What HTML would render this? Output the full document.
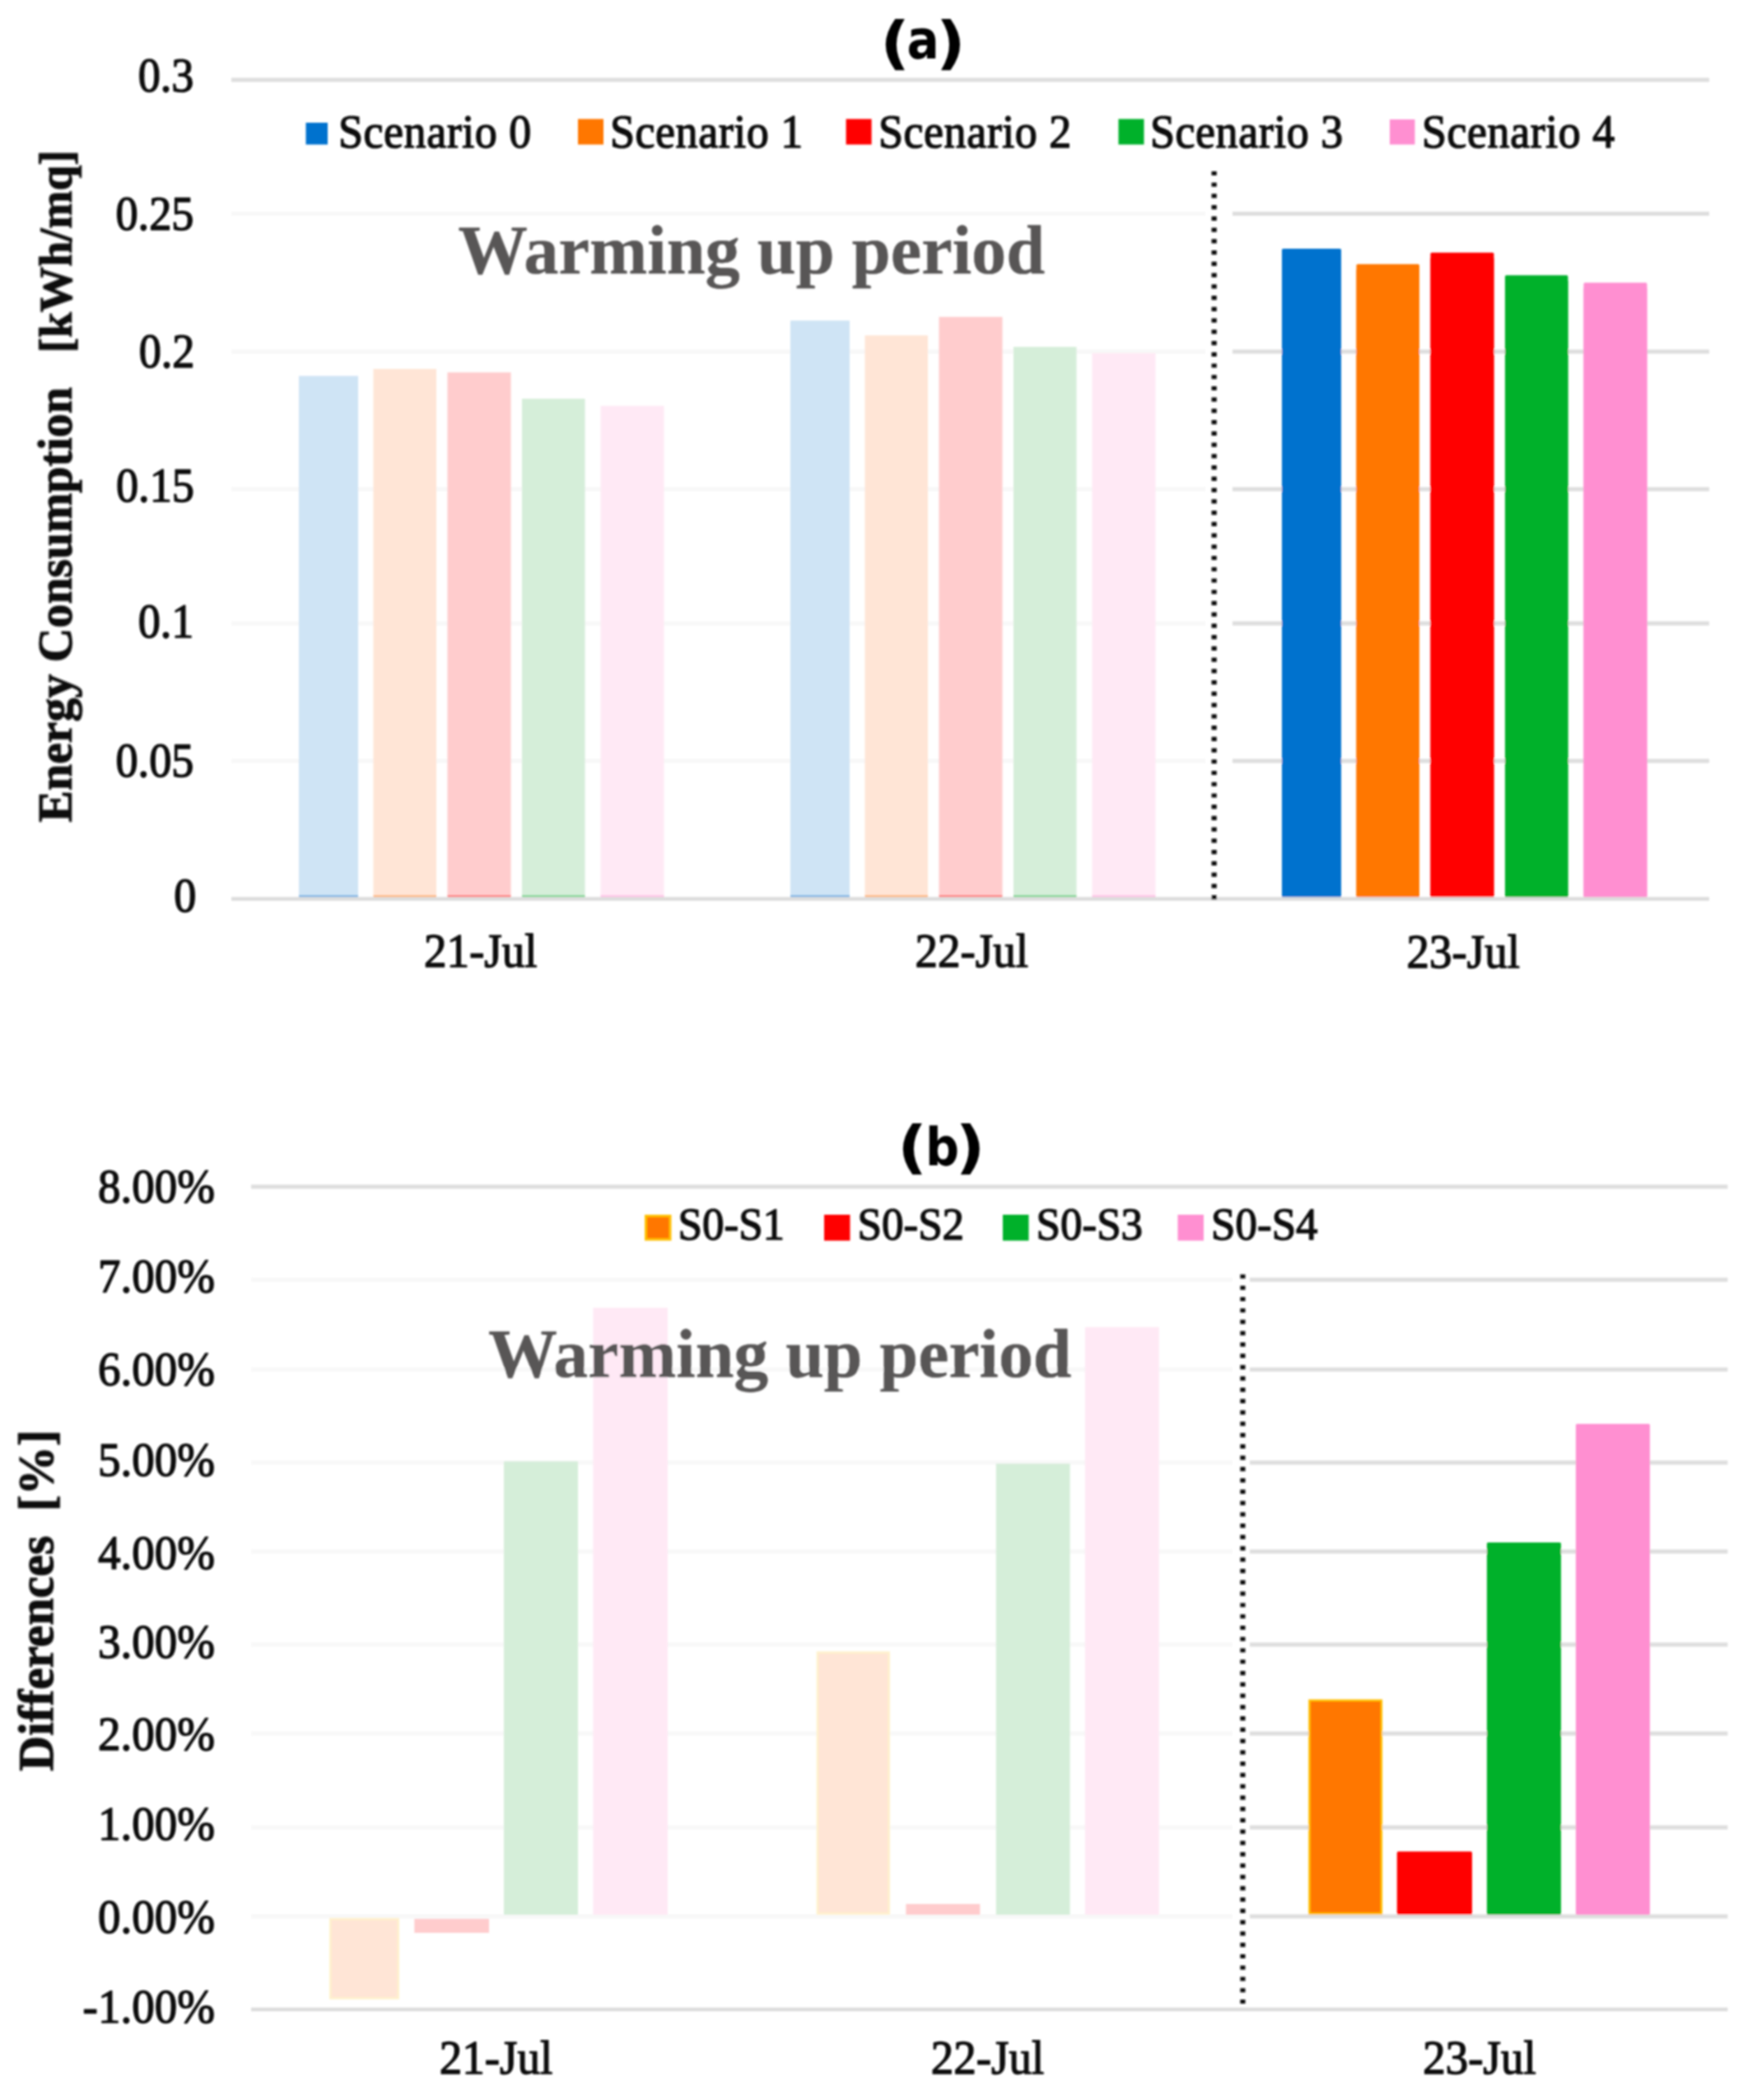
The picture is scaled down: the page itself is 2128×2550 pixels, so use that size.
<!DOCTYPE html>
<html lang="en">
<head>
<meta charset="utf-8">
<title>Energy consumption and differences per scenario</title>
<style>
html,body{margin:0;padding:0;background:#fff;}
body{width:2128px;height:2550px;overflow:hidden;}
svg{display:block;}
text{text-rendering:geometricPrecision;white-space:pre;}
</style>
</head>
<body>
<svg width="2128" height="2550" viewBox="0 0 2128 2550">
<rect x="0" y="0" width="2128" height="2550" fill="#ffffff"/>
<g filter="url(#soft)">
<line x1="281" y1="97" x2="2076" y2="97" stroke="#dedede" stroke-width="5" />
<line x1="281" y1="259.5" x2="1464" y2="259.5" stroke="#f8f8f8" stroke-width="5" />
<line x1="1497" y1="259.5" x2="2076" y2="259.5" stroke="#dedede" stroke-width="5" />
<line x1="281" y1="427" x2="1464" y2="427" stroke="#f8f8f8" stroke-width="5" />
<line x1="1497" y1="427" x2="2076" y2="427" stroke="#dedede" stroke-width="5" />
<line x1="281" y1="594" x2="1464" y2="594" stroke="#f8f8f8" stroke-width="5" />
<line x1="1497" y1="594" x2="2076" y2="594" stroke="#dedede" stroke-width="5" />
<line x1="281" y1="757" x2="1464" y2="757" stroke="#f8f8f8" stroke-width="5" />
<line x1="1497" y1="757" x2="2076" y2="757" stroke="#dedede" stroke-width="5" />
<line x1="281" y1="924" x2="1464" y2="924" stroke="#f8f8f8" stroke-width="5" />
<line x1="1497" y1="924" x2="2076" y2="924" stroke="#dedede" stroke-width="5" />
<rect x="363.0" y="456.5" width="72.0" height="631.0" fill="#cfe4f5" />
<rect x="363.0" y="1087.0" width="72.0" height="2.5" fill="#73b1e4" />
<rect x="453.5" y="448.0" width="76.5" height="639.5" fill="#ffe5d6" />
<rect x="453.5" y="1087.0" width="76.5" height="2.5" fill="#ffb473" />
<rect x="543.5" y="452.2" width="77.0" height="635.3" fill="#ffcccd" />
<rect x="543.5" y="1087.0" width="77.0" height="2.5" fill="#ff7373" />
<rect x="634.0" y="484.2" width="76.5" height="603.3" fill="#d5eed9" />
<rect x="634.0" y="1087.0" width="76.5" height="2.5" fill="#73d48a" />
<rect x="729.5" y="492.8" width="77.0" height="594.7" fill="#ffe9f5" />
<rect x="729.5" y="1087.0" width="77.0" height="2.5" fill="#ffc1e6" />
<rect x="960.0" y="389.3" width="72.0" height="698.2" fill="#cfe4f5" />
<rect x="960.0" y="1087.0" width="72.0" height="2.5" fill="#73b1e4" />
<rect x="1050.5" y="407.3" width="76.5" height="680.2" fill="#ffe5d6" />
<rect x="1050.5" y="1087.0" width="76.5" height="2.5" fill="#ffb473" />
<rect x="1140.5" y="384.8" width="77.0" height="702.7" fill="#ffcccd" />
<rect x="1140.5" y="1087.0" width="77.0" height="2.5" fill="#ff7373" />
<rect x="1231.0" y="421.2" width="76.5" height="666.3" fill="#d5eed9" />
<rect x="1231.0" y="1087.0" width="76.5" height="2.5" fill="#73d48a" />
<rect x="1326.5" y="428.8" width="77.0" height="658.7" fill="#ffe9f5" />
<rect x="1326.5" y="1087.0" width="77.0" height="2.5" fill="#ffc1e6" />
<rect x="1557.0" y="302.0" width="72.0" height="787.5" fill="#0072ce" rx="1.6"/>
<rect x="1557.0" y="308.7" width="72.0" height="780.8" fill="#0072ce" />
<rect x="1647.5" y="320.8" width="76.5" height="768.7" fill="#ff7700" rx="1.6"/>
<rect x="1647.5" y="327.5" width="76.5" height="762.0" fill="#ff7700" />
<rect x="1737.5" y="306.7" width="77.0" height="782.8" fill="#ff0000" rx="1.6"/>
<rect x="1737.5" y="313.4" width="77.0" height="776.1" fill="#ff0000" />
<rect x="1828.0" y="334.3" width="76.5" height="755.2" fill="#00b12b" rx="1.6"/>
<rect x="1828.0" y="341.0" width="76.5" height="748.5" fill="#00b12b" />
<rect x="1923.5" y="343.3" width="77.0" height="746.2" fill="#ff8fd1" rx="1.6"/>
<rect x="1923.5" y="350.0" width="77.0" height="739.5" fill="#ff8fd1" />
<line x1="281" y1="1091.5" x2="2076" y2="1091.5" stroke="#dcdcdc" stroke-width="4.5" />
<line x1="1474.7" y1="207.90" x2="1474.7" y2="1093.00" stroke="#111" stroke-width="6.2" stroke-dasharray="5.2 8.536"/>
<text transform="translate(235.5,111.2) scale(1.0,1.08)" font-family="'Liberation Serif', 'DejaVu Serif', serif" font-size="54.3" font-weight="normal" text-anchor="end" fill="#111" stroke="#111" stroke-width="1.4" stroke-linejoin="round" xml:space="preserve">0.3</text>
<text transform="translate(235.5,278.7) scale(1.0,1.08)" font-family="'Liberation Serif', 'DejaVu Serif', serif" font-size="54.3" font-weight="normal" text-anchor="end" fill="#111" stroke="#111" stroke-width="1.4" stroke-linejoin="round" xml:space="preserve">0.25</text>
<text transform="translate(236.5,446.2) scale(1.0,1.08)" font-family="'Liberation Serif', 'DejaVu Serif', serif" font-size="54.3" font-weight="normal" text-anchor="end" fill="#111" stroke="#111" stroke-width="1.4" stroke-linejoin="round" xml:space="preserve">0.2</text>
<text transform="translate(236.0,609.2) scale(1.0,1.08)" font-family="'Liberation Serif', 'DejaVu Serif', serif" font-size="54.3" font-weight="normal" text-anchor="end" fill="#111" stroke="#111" stroke-width="1.4" stroke-linejoin="round" xml:space="preserve">0.15</text>
<text transform="translate(235.5,774.2) scale(1.0,1.08)" font-family="'Liberation Serif', 'DejaVu Serif', serif" font-size="54.3" font-weight="normal" text-anchor="end" fill="#111" stroke="#111" stroke-width="1.4" stroke-linejoin="round" xml:space="preserve">0.1</text>
<text transform="translate(235.5,943.2) scale(1.0,1.08)" font-family="'Liberation Serif', 'DejaVu Serif', serif" font-size="54.3" font-weight="normal" text-anchor="end" fill="#111" stroke="#111" stroke-width="1.4" stroke-linejoin="round" xml:space="preserve">0.05</text>
<text transform="translate(238.5,1106.7) scale(1.0,1.08)" font-family="'Liberation Serif', 'DejaVu Serif', serif" font-size="54.3" font-weight="normal" text-anchor="end" fill="#111" stroke="#111" stroke-width="1.4" stroke-linejoin="round" xml:space="preserve">0</text>
<text transform="translate(583.8,1174.5) scale(1.0,1.055)" font-family="'Liberation Serif', 'DejaVu Serif', serif" font-size="55" font-weight="normal" text-anchor="middle" fill="#111" stroke="#111" stroke-width="1.4" stroke-linejoin="round" xml:space="preserve">21-Jul</text>
<text transform="translate(1180.3,1174.5) scale(1.0,1.055)" font-family="'Liberation Serif', 'DejaVu Serif', serif" font-size="55" font-weight="normal" text-anchor="middle" fill="#111" stroke="#111" stroke-width="1.4" stroke-linejoin="round" xml:space="preserve">22-Jul</text>
<text transform="translate(1777.3,1174.5) scale(1.0,1.055)" font-family="'Liberation Serif', 'DejaVu Serif', serif" font-size="55" font-weight="normal" text-anchor="middle" fill="#111" stroke="#111" stroke-width="1.4" stroke-linejoin="round" xml:space="preserve">23-Jul</text>
<rect x="371.5" y="149.0" width="26.5" height="26.5" fill="#0072ce" />
<text transform="translate(411.0,178.7) scale(1.0,1.06)" font-family="'Liberation Serif', 'DejaVu Serif', serif" font-size="54" font-weight="normal" text-anchor="start" fill="#111" stroke="#111" stroke-width="1.4" stroke-linejoin="round" letter-spacing="0.55" xml:space="preserve">Scenario 0</text>
<rect x="702.0" y="144.5" width="31.0" height="31.0" fill="#ff7700" />
<text transform="translate(741.0,178.7) scale(1.0,1.06)" font-family="'Liberation Serif', 'DejaVu Serif', serif" font-size="54" font-weight="normal" text-anchor="start" fill="#111" stroke="#111" stroke-width="1.4" stroke-linejoin="round" letter-spacing="0.55" xml:space="preserve">Scenario 1</text>
<rect x="1027.6" y="144.5" width="31.0" height="31.0" fill="#ff0000" />
<text transform="translate(1067.0,178.7) scale(1.0,1.06)" font-family="'Liberation Serif', 'DejaVu Serif', serif" font-size="54" font-weight="normal" text-anchor="start" fill="#111" stroke="#111" stroke-width="1.4" stroke-linejoin="round" letter-spacing="0.55" xml:space="preserve">Scenario 2</text>
<rect x="1358.5" y="144.5" width="31.0" height="31.0" fill="#00b12b" />
<text transform="translate(1397.0,178.7) scale(1.0,1.06)" font-family="'Liberation Serif', 'DejaVu Serif', serif" font-size="54" font-weight="normal" text-anchor="start" fill="#111" stroke="#111" stroke-width="1.4" stroke-linejoin="round" letter-spacing="0.55" xml:space="preserve">Scenario 3</text>
<rect x="1688.0" y="145.0" width="30.5" height="30.5" fill="#ff8fd1" />
<text transform="translate(1727.0,178.7) scale(1.0,1.06)" font-family="'Liberation Serif', 'DejaVu Serif', serif" font-size="54" font-weight="normal" text-anchor="start" fill="#111" stroke="#111" stroke-width="1.4" stroke-linejoin="round" letter-spacing="0.55" xml:space="preserve">Scenario 4</text>
<text transform="translate(556.5,331.5)" font-family="'Liberation Serif', 'DejaVu Serif', serif" font-size="84.4" font-weight="bold" text-anchor="start" fill="#595757" stroke="#595757" stroke-width="0.4" stroke-linejoin="round" xml:space="preserve">Warming up period</text>
<text transform="translate(86.8,998.5) rotate(-90) scale(1.0,1.02)" font-family="'Liberation Serif', 'DejaVu Serif', serif" font-size="57.8" font-weight="bold" text-anchor="start" fill="#111" stroke="#111" stroke-width="1.1" stroke-linejoin="round" xml:space="preserve">Energy Consumption<tspan dx="14" font-size="55.4">  [kWh/mq]</tspan></text>
<text font-family="'DejaVu Sans', 'Liberation Sans', sans-serif" font-weight="bold" fill="#000" font-size="70"><tspan x="1069" y="76.0" textLength="36.1" lengthAdjust="spacingAndGlyphs">(</tspan><tspan x="1101.5" y="71.2" font-size="65.5" textLength="39.3" lengthAdjust="spacingAndGlyphs">a</tspan><tspan x="1136.7" y="76.0" textLength="36.1" lengthAdjust="spacingAndGlyphs">)</tspan></text>
<line x1="305" y1="1441" x2="2098.5" y2="1441" stroke="#dedede" stroke-width="5" />
<line x1="305" y1="1554" x2="1497" y2="1554" stroke="#f8f8f8" stroke-width="5" />
<line x1="1518" y1="1554" x2="2098.5" y2="1554" stroke="#dedede" stroke-width="5" />
<line x1="305" y1="1663" x2="1497" y2="1663" stroke="#f8f8f8" stroke-width="5" />
<line x1="1518" y1="1663" x2="2098.5" y2="1663" stroke="#dedede" stroke-width="5" />
<line x1="305" y1="1776" x2="1497" y2="1776" stroke="#f8f8f8" stroke-width="5" />
<line x1="1518" y1="1776" x2="2098.5" y2="1776" stroke="#dedede" stroke-width="5" />
<line x1="305" y1="1884" x2="1497" y2="1884" stroke="#f8f8f8" stroke-width="5" />
<line x1="1518" y1="1884" x2="2098.5" y2="1884" stroke="#dedede" stroke-width="5" />
<line x1="305" y1="1997" x2="1497" y2="1997" stroke="#f8f8f8" stroke-width="5" />
<line x1="1518" y1="1997" x2="2098.5" y2="1997" stroke="#dedede" stroke-width="5" />
<line x1="305" y1="2105" x2="1497" y2="2105" stroke="#f8f8f8" stroke-width="5" />
<line x1="1518" y1="2105" x2="2098.5" y2="2105" stroke="#dedede" stroke-width="5" />
<line x1="305" y1="2219" x2="1497" y2="2219" stroke="#f8f8f8" stroke-width="5" />
<line x1="1518" y1="2219" x2="2098.5" y2="2219" stroke="#dedede" stroke-width="5" />
<line x1="305" y1="2327" x2="1497" y2="2327" stroke="#f8f8f8" stroke-width="5" />
<line x1="1518" y1="2327" x2="2098.5" y2="2327" stroke="#dedede" stroke-width="5" />
<line x1="305" y1="2440" x2="2098.5" y2="2440" stroke="#dcdcdc" stroke-width="4.5" />
<rect x="401.2" y="2330.2" width="82.5" height="96.3" fill="#ffe5d6" stroke="#fff2cc" stroke-width="2.5"/>
<rect x="503.3" y="2330.0" width="90.7" height="17.0" fill="#ffcccd" />
<rect x="612.0" y="1774.5" width="90.0" height="550.5" fill="#d5eed9" />
<rect x="720.4" y="1588.0" width="90.6" height="737.0" fill="#ffe9f5" />
<rect x="993.0" y="2006.5" width="86.8" height="317.2" fill="#ffe5d6" stroke="#fff2cc" stroke-width="2.5"/>
<rect x="1100.4" y="2312.0" width="89.9" height="13.0" fill="#ffcccd" />
<rect x="1209.8" y="1777.3" width="89.8" height="547.7" fill="#d5eed9" />
<rect x="1317.9" y="1611.5" width="89.8" height="713.5" fill="#ffe9f5" />
<rect x="1590.5" y="2064.8" width="87.4" height="258.9" fill="#ff7700" stroke="#ffc000" stroke-width="2.5"/>
<rect x="1696.8" y="2248.3" width="91.2" height="76.7" fill="#ff0000" rx="1.6"/>
<rect x="1806.0" y="1873.0" width="90.0" height="452.0" fill="#00b12b" rx="1.6"/>
<rect x="1914.0" y="1729.0" width="90.0" height="596.0" fill="#ff8fd1" rx="1.6"/>
<line x1="1509.5" y1="1547.40" x2="1509.5" y2="2433.90" stroke="#111" stroke-width="6.2" stroke-dasharray="5.2 8.558"/>
<text transform="translate(261.0,1460.2) scale(1.0,1.055)" font-family="'Liberation Serif', 'DejaVu Serif', serif" font-size="55" font-weight="normal" text-anchor="end" fill="#111" stroke="#111" stroke-width="1.4" stroke-linejoin="round" xml:space="preserve">8.00%</text>
<text transform="translate(261.0,1569.2) scale(1.0,1.055)" font-family="'Liberation Serif', 'DejaVu Serif', serif" font-size="55" font-weight="normal" text-anchor="end" fill="#111" stroke="#111" stroke-width="1.4" stroke-linejoin="round" xml:space="preserve">7.00%</text>
<text transform="translate(261.0,1681.7) scale(1.0,1.055)" font-family="'Liberation Serif', 'DejaVu Serif', serif" font-size="55" font-weight="normal" text-anchor="end" fill="#111" stroke="#111" stroke-width="1.4" stroke-linejoin="round" xml:space="preserve">6.00%</text>
<text transform="translate(261.0,1792.2) scale(1.0,1.055)" font-family="'Liberation Serif', 'DejaVu Serif', serif" font-size="55" font-weight="normal" text-anchor="end" fill="#111" stroke="#111" stroke-width="1.4" stroke-linejoin="round" xml:space="preserve">5.00%</text>
<text transform="translate(261.0,1904.7) scale(1.0,1.055)" font-family="'Liberation Serif', 'DejaVu Serif', serif" font-size="55" font-weight="normal" text-anchor="end" fill="#111" stroke="#111" stroke-width="1.4" stroke-linejoin="round" xml:space="preserve">4.00%</text>
<text transform="translate(261.0,2012.7) scale(1.0,1.055)" font-family="'Liberation Serif', 'DejaVu Serif', serif" font-size="55" font-weight="normal" text-anchor="end" fill="#111" stroke="#111" stroke-width="1.4" stroke-linejoin="round" xml:space="preserve">3.00%</text>
<text transform="translate(261.0,2125.2) scale(1.0,1.055)" font-family="'Liberation Serif', 'DejaVu Serif', serif" font-size="55" font-weight="normal" text-anchor="end" fill="#111" stroke="#111" stroke-width="1.4" stroke-linejoin="round" xml:space="preserve">2.00%</text>
<text transform="translate(261.0,2234.2) scale(1.0,1.055)" font-family="'Liberation Serif', 'DejaVu Serif', serif" font-size="55" font-weight="normal" text-anchor="end" fill="#111" stroke="#111" stroke-width="1.4" stroke-linejoin="round" xml:space="preserve">1.00%</text>
<text transform="translate(261.0,2347.2) scale(1.0,1.055)" font-family="'Liberation Serif', 'DejaVu Serif', serif" font-size="55" font-weight="normal" text-anchor="end" fill="#111" stroke="#111" stroke-width="1.4" stroke-linejoin="round" xml:space="preserve">0.00%</text>
<text transform="translate(261.0,2456.2) scale(1.0,1.055)" font-family="'Liberation Serif', 'DejaVu Serif', serif" font-size="55" font-weight="normal" text-anchor="end" fill="#111" stroke="#111" stroke-width="1.4" stroke-linejoin="round" xml:space="preserve">-1.00%</text>
<text transform="translate(602.5,2517.5) scale(1.0,1.055)" font-family="'Liberation Serif', 'DejaVu Serif', serif" font-size="55" font-weight="normal" text-anchor="middle" fill="#111" stroke="#111" stroke-width="1.4" stroke-linejoin="round" xml:space="preserve">21-Jul</text>
<text transform="translate(1199.5,2517.5) scale(1.0,1.055)" font-family="'Liberation Serif', 'DejaVu Serif', serif" font-size="55" font-weight="normal" text-anchor="middle" fill="#111" stroke="#111" stroke-width="1.4" stroke-linejoin="round" xml:space="preserve">22-Jul</text>
<text transform="translate(1797.0,2517.5) scale(1.0,1.055)" font-family="'Liberation Serif', 'DejaVu Serif', serif" font-size="55" font-weight="normal" text-anchor="middle" fill="#111" stroke="#111" stroke-width="1.4" stroke-linejoin="round" xml:space="preserve">23-Jul</text>
<rect x="784.5" y="1476.5" width="29.5" height="28.5" fill="#ff7700" stroke="#ffc000" stroke-width="3"/>
<text transform="translate(823.5,1504.7) scale(1.0,1.04)" font-family="'Liberation Serif', 'DejaVu Serif', serif" font-size="53" font-weight="normal" text-anchor="start" fill="#111" stroke="#111" stroke-width="1.4" stroke-linejoin="round" xml:space="preserve">S0-S1</text>
<rect x="1001.0" y="1475.0" width="31.5" height="31.5" fill="#ff0000" />
<text transform="translate(1041.5,1504.7) scale(1.0,1.04)" font-family="'Liberation Serif', 'DejaVu Serif', serif" font-size="53" font-weight="normal" text-anchor="start" fill="#111" stroke="#111" stroke-width="1.4" stroke-linejoin="round" xml:space="preserve">S0-S2</text>
<rect x="1218.0" y="1475.0" width="31.5" height="31.5" fill="#00b12b" />
<text transform="translate(1258.5,1504.7) scale(1.0,1.04)" font-family="'Liberation Serif', 'DejaVu Serif', serif" font-size="53" font-weight="normal" text-anchor="start" fill="#111" stroke="#111" stroke-width="1.4" stroke-linejoin="round" xml:space="preserve">S0-S3</text>
<rect x="1430.5" y="1475.0" width="31.5" height="31.5" fill="#ff8fd1" />
<text transform="translate(1471.0,1504.7) scale(1.0,1.04)" font-family="'Liberation Serif', 'DejaVu Serif', serif" font-size="53" font-weight="normal" text-anchor="start" fill="#111" stroke="#111" stroke-width="1.4" stroke-linejoin="round" xml:space="preserve">S0-S4</text>
<text transform="translate(593.0,1671.5)" font-family="'Liberation Serif', 'DejaVu Serif', serif" font-size="83.9" font-weight="bold" text-anchor="start" fill="#595757" stroke="#595757" stroke-width="0.4" stroke-linejoin="round" xml:space="preserve">Warming up period</text>
<text transform="translate(64.3,2150.7) rotate(-90) scale(1.0,1.02)" font-family="'Liberation Serif', 'DejaVu Serif', serif" font-size="59.4" font-weight="bold" text-anchor="start" fill="#111" stroke="#111" stroke-width="1.1" stroke-linejoin="round" xml:space="preserve">Differences  [%]</text>
<text font-family="'DejaVu Sans', 'Liberation Sans', sans-serif" font-weight="bold" fill="#000" font-size="70"><tspan x="1090" y="1416.8999999999999" textLength="36.1" lengthAdjust="spacingAndGlyphs">(</tspan><tspan x="1124" y="1415.3" font-size="63.8" textLength="41.1" lengthAdjust="spacingAndGlyphs">b</tspan><tspan x="1160.5" y="1416.8999999999999" textLength="36.1" lengthAdjust="spacingAndGlyphs">)</tspan></text>
</g>
<defs>
<filter id="soft" x="0" y="0" width="100%" height="100%" filterUnits="userSpaceOnUse"><feGaussianBlur stdDeviation="0.9"/></filter>
</defs>
</svg>
</body>
</html>
